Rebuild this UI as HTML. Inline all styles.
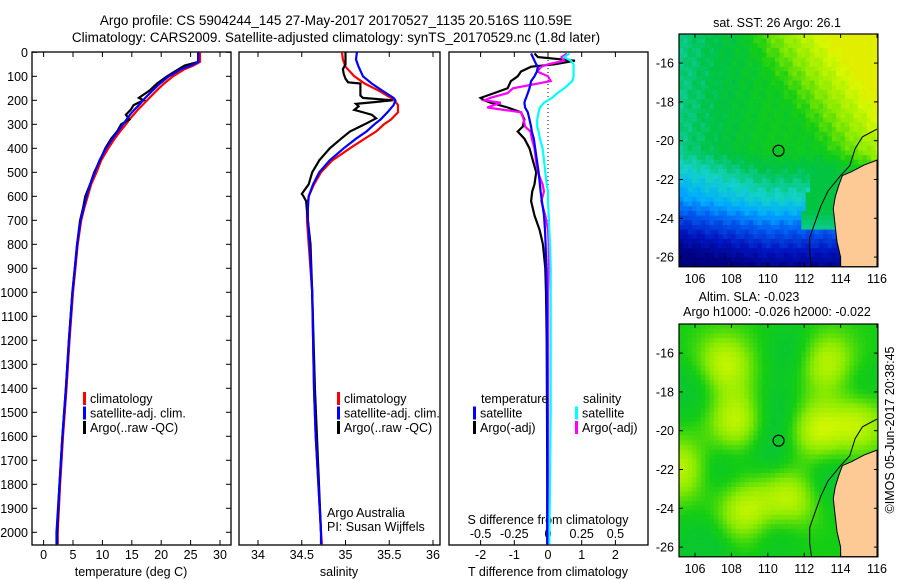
<!DOCTYPE html>
<html><head><meta charset="utf-8"><style>
html,body{margin:0;padding:0;background:#fff;}
svg{display:block;font-family:"Liberation Sans",sans-serif;}
text{font-size:12.5px;fill:#000;}
</style></head><body>
<svg id="s" width="900" height="580" viewBox="0 0 900 580">
<defs>
<clipPath id="clip1"><rect x="679" y="34" width="199" height="233"/></clipPath>
<clipPath id="clip2"><rect x="679" y="324" width="199" height="233"/></clipPath>
</defs>
<text x="336" y="25" text-anchor="middle" style="font-size:13.5px">Argo profile: CS 5904244_145 27-May-2017 20170527_1135 20.516S 110.59E</text>
<text x="336" y="42" text-anchor="middle" style="font-size:13.5px">Climatology: CARS2009. Satellite-adjusted climatology: synTS_20170529.nc (1.8d later)</text>
<g id="maps"></g>
<g id="plots"></g>
</svg>
<script>
// ---- profile data ----
const depthT=[0,40,55,70,100,130,160,190,200,220,240,260,280,300,330,360,400,450,500,550,600,650,700,800,900,1000,1200,1400,1600,1800,2000,2050];
const climT=[26.6,26.6,25.5,24,22,20.5,19.2,18,17.6,16.8,16,15.3,14.6,14,13,12.1,11,9.8,9,8.1,7.5,6.9,6.4,5.8,5.4,5.0,4.4,3.9,3.3,2.8,2.4,2.4];
const satT=[26.3,26.3,25.1,23.4,21.3,19.8,18.5,17.3,16.9,16.2,15.4,14.7,14.1,13.5,12.6,11.7,10.6,9.5,8.7,7.9,7.3,6.8,6.3,5.7,5.3,4.9,4.3,3.8,3.2,2.7,2.2,2.2];
const argoT=[26.3,26.3,24.0,23.0,21.0,19.3,18.0,16.2,17.0,15.3,14.8,14.0,14.6,13.2,12.5,11.5,10.5,9.6,8.6,7.9,7.1,6.7,6.2,5.7,5.3,4.9,4.3,3.8,3.2,2.7,2.3,2.3];
const depthS=[0,30,60,100,130,160,190,200,220,250,280,300,330,360,400,450,500,550,600,650,700,800,1000,1200,1400,1600,1800,2000,2050];
const climS=[34.96,34.97,35.0,35.1,35.22,35.38,35.52,35.56,35.6,35.6,35.52,35.44,35.35,35.22,35.05,34.85,34.72,34.64,34.58,34.56,34.56,34.58,34.62,34.63,34.64,34.66,34.69,34.72,34.73];
const satS=[35.13,35.12,35.15,35.2,35.3,35.42,35.55,35.57,35.55,35.48,35.4,35.33,35.24,35.12,34.98,34.82,34.7,34.63,34.58,34.57,34.57,34.59,34.62,34.63,34.64,34.66,34.69,34.72,34.72];
const depthSA=[0,50,70,90,110,125,130,180,190,200,215,225,240,260,275,300,330,360,400,450,500,550,590,600,620,700,800,1000,1400,2000];
const argoS=[35.0,35.0,34.97,34.98,35.0,35.03,35.17,35.17,35.2,35.54,35.12,35.15,35.1,35.3,35.35,35.22,35.05,34.95,34.82,34.7,34.62,34.58,34.5,34.52,34.55,34.57,34.6,34.62,34.65,34.72];
const depthD=[5,20,35,50,60,80,100,120,150,170,190,200,210,230,250,280,310,330,360,400,450,500,550,580,620,680,740,800,900,1000,1200,1500,1800,2050];
const tSatDiff=[-0.5,-0.45,-0.4,-0.35,-0.3,-0.33,-0.4,-0.5,-0.55,-0.6,-0.65,-0.68,-0.7,-0.68,-0.6,-0.55,-0.5,-0.48,-0.42,-0.38,-0.33,-0.28,-0.24,-0.22,-0.18,-0.12,-0.09,-0.07,-0.05,-0.04,-0.03,-0.02,-0.02,-0.02];
const tArgoDiff=[-0.4,-0.3,0.8,0.2,-0.5,-0.8,-0.9,-1.1,-1.2,-1.6,-2.0,-1.9,-1.7,-1.2,-0.8,-0.7,-0.75,-0.9,-0.7,-0.55,-0.45,-0.35,-0.4,-0.47,-0.5,-0.4,-0.25,-0.15,-0.08,-0.06,-0.04,-0.03,-0.02,-0.02];
const sSatDiff=[0.16,0.12,0.17,0.19,0.19,0.19,0.19,0.18,0.12,0.07,0.03,0.0,-0.03,-0.06,-0.07,-0.08,-0.08,-0.07,-0.06,-0.04,-0.03,-0.02,-0.01,0,0,0.005,0.01,0.015,0.02,0.02,0.02,0.02,0.015,0.01];
const sArgoDiff=[0.14,0.1,0.12,0.0,-0.05,-0.08,0.0,0.02,-0.26,-0.3,-0.43,-0.47,-0.35,-0.45,-0.2,-0.18,-0.17,-0.13,-0.12,-0.1,-0.09,-0.075,-0.04,-0.03,-0.05,-0.02,0,0.005,0.005,0,0,0,0,0];
const depthTicks=[0,100,200,300,400,500,600,700,800,900,1000,1100,1200,1300,1400,1500,1600,1700,1800,1900,2000];
const tempTicks=[0,5,10,15,20,25,30];
const salTicks=[34,34.5,35,35.5,36];
const tdTicks=[-2,-1,0,1,2];
const sdTicks=[-0.5,-0.25,0,0.25,0.5];
const lonTicks=[106,108,110,112,114,116];
const latTicks=[-16,-18,-20,-22,-24,-26];

const NS='http://www.w3.org/2000/svg';
function mk(tag,attrs,parent){const e=document.createElementNS(NS,tag);for(const k in attrs)e.setAttribute(k,attrs[k]);parent.appendChild(e);return e;}
const P=document.getElementById('plots');
const yD=d=>52.3+0.24*d;
const xT=t=>43.6+5.88*t;
const xS=s=>258+87.5*(s-34);
const xTD=v=>548+33.7*v;
const xSD=v=>548+134.8*v;
const TOP=52,BOT=545;

function frame(x0,x1,name){
  const r=mk('rect',{x:x0,y:TOP,width:x1-x0,height:BOT-TOP,fill:'none',stroke:'#000','stroke-width':1.3},P);
  
  
}
function line(xs,ys,xf,color,w,name){
  const pts=xs.map((v,i)=>xf(v).toFixed(1)+','+yD(ys[i]).toFixed(1)).join(' ');
  const pl=mk('polyline',{points:pts,fill:'none',stroke:color,'stroke-width':w,'stroke-linejoin':'miter'},P);
  
  
}
function txt(x,y,s,anchor,name,parent){
  const t=mk('text',{x:x,y:y,'text-anchor':anchor||'start'},parent||P);t.textContent=s;
  
  
  return t;
}
function xticks(vals,xf,labels,y){
  vals.forEach((v,i)=>{const x=xf(v);
    mk('line',{x1:x,y1:TOP,x2:x,y2:TOP+5,stroke:'#000'},P);
    mk('line',{x1:x,y1:BOT,x2:x,y2:BOT-5,stroke:'#000'},P);
    if(labels) txt(x,y,String(labels[i]),'middle','x-tick-label');
  });
}
frame(32,231,'temperature-panel');frame(239,440,'salinity-panel');frame(449,648,'difference-panel');
depthTicks.forEach(d=>{const y=yD(d);
  mk('line',{x1:32,y1:y,x2:37,y2:y,stroke:'#000'},P);
  mk('line',{x1:231,y1:y,x2:226,y2:y,stroke:'#000'},P);
  txt(28,y+4.5,String(d),'end','y-tick-label');
});
xticks(tempTicks,xT,tempTicks,559);
xticks(salTicks,xS,salTicks,559);
xticks(tdTicks,xTD,tdTicks,559);
sdTicks.forEach(v=>txt(xSD(v),538,String(v),'middle','s-diff-tick-label'));
txt(131,576,'temperature (deg C)','middle','x-axis-title-temperature');
txt(339,576,'salinity','middle','x-axis-title-salinity');
txt(548,576,'T difference from climatology','middle','x-axis-title-t-diff');
txt(548,524,'S difference from climatology','middle','x-axis-title-s-diff');
txt(327,517,'Argo Australia','start','credit-argo-australia');
txt(327,531,'PI: Susan Wijffels','start','credit-pi');
const z=mk('line',{x1:548,y1:TOP,x2:548,y2:BOT,stroke:'#000','stroke-dasharray':'1,3'},P);

line(climT,depthT,xT,'#f00',2.2,'temp-climatology');
line(argoT,depthT,xT,'#000',2.2,'temp-argo');
line(satT,depthT,xT,'#00f',2.2,'temp-satellite');
line(climS,depthS,xS,'#f00',2.2,'sal-climatology');
line(argoS,depthSA,xS,'#000',2.2,'sal-argo');
line(satS,depthS,xS,'#00f',2.2,'sal-satellite');
line(tArgoDiff,depthD,xTD,'#000',2.2,'tdiff-argo');
line(sArgoDiff,depthD,xSD,'#f0f',2.2,'sdiff-argo');
line(sSatDiff,depthD,xSD,'#0ff',2.2,'sdiff-satellite');
line(tSatDiff,depthD,xTD,'#00f',2.2,'tdiff-satellite');
function leg(x,y,color,label,name){
  const r=mk('rect',{x:x,y:y-11,width:3,height:13,fill:color},P);
  
  txt(x+7,y,label,'start',name);
}
[[ '#f00','climatology'],['#00f','satellite-adj. clim.'],['#000','Argo(..raw -QC)']].forEach((e,i)=>{
  leg(83,403+i*14.5,e[0],e[1],'legend-temp-'+i);
  leg(337,403+i*14.5,e[0],e[1],'legend-sal-'+i);
});
txt(481,403,'temperature','start','legend-header-temperature');
txt(583,403,'salinity','start','legend-header-salinity');
leg(473,417.5,'#00f','satellite','legend-t-satellite');
leg(473,432,'#000','Argo(-adj)','legend-t-argo');
leg(575,417.5,'#0ff','satellite','legend-s-satellite');
leg(575,432,'#f0f','Argo(-adj)','legend-s-argo');

// ---- maps ----
const M=document.getElementById('maps');
const stops=[[0,[0,0,128]],[0.12,[0,20,190]],[0.25,[0,90,240]],[0.35,[0,170,255]],[0.45,[20,210,200]],[0.55,[0,195,70]],[0.65,[20,205,20]],[0.75,[140,235,0]],[0.85,[215,248,0]],[0.95,[250,215,0]],[1,[255,190,0]]];
function cmap(v){v=Math.max(0,Math.min(1,v));for(let i=1;i<stops.length;i++){if(v<=stops[i][0]){const a=stops[i-1],b=stops[i],f=(v-a[0])/(b[0]-a[0]);const c=a[1].map((q,j)=>Math.round(q+(b[1][j]-q)*f));return 'rgb('+c.join(',')+')';}}return 'rgb(255,190,0)';}
const yellowBlobs=[[108.3,-19.5],[115,-19.5],[111.2,-23.5],[108.8,-24.2],[113.2,-16.5],[107.6,-16.6],[105.3,-22],[112.6,-20]];
const greenBlobs=[[110.3,-21],[107,-22],[106,-17.8],[111.5,-16],[110.3,-25],[115,-18],[106.5,-26],[113.3,-22.5],[110.5,-19]];
const LON0=105.12,LAT0=-14.5,SX=18.2,SY=19.4;
const coast=[[116,-21],[115.3,-21.25],[114.6,-21.6],[114.1,-21.8],[113.9,-22.3],[113.7,-22.9],[113.6,-23.5],[113.7,-24.4],[113.8,-25.2],[114.0,-26],[114.0,-26.5],[116,-26.5]];
const shelf=[[116,-19.4],[115.2,-19.8],[114.8,-20.4],[114.5,-21.3],[114.0,-21.8],[113.3,-22.6],[112.9,-23.4],[112.6,-24.2],[112.3,-25.0],[112.3,-25.8],[112.4,-26.5]];
function sstVal(lc,la){
  let v=0.62+0.025*Math.sin(lc*7.3+la*3.1)*Math.cos(la*5.7);
  const d=(lc-110)+0.75*(la+15);
  if(d>-1.5) v+=0.05*(d+1.5);
  v-=0.024*Math.max(0,110-lc);
  v-=0.07*Math.max(0,-20.5-la);
  v-=0.05*Math.max(0,-23-la);
  const near=lc-(112.6+0.25*(la+21));
  if(la<-20.5&&la>-24.5&&near>0) v=Math.max(v,0.56-0.06*Math.max(0,-23.5-la));
  return Math.min(v,0.88);
}
function drawMap(top,kind,name,clip){
  const g=mk('g',{},M);
  const X=l=>679+(l-LON0)*SX, Y=a=>top+(LAT0-a)*SY;
  const cells=mk('g',{'clip-path':'url(#'+clip+')'},g);
  const cs=0.24;
  for(let lon=LON0;lon<116.05;lon+=cs){for(let lat=LAT0;lat>-26.55;lat-=cs){
    const lc=lon+cs/2,la=lat-cs/2;let v;
    if(kind==='sst'){v=sstVal(lc,la);}
    else{
      v=0.65;yellowBlobs.forEach(b=>{v+=0.18*Math.exp(-((lc-b[0])**2+(la-b[1])**2)/2.5);});
      greenBlobs.forEach(b=>{v-=0.08*Math.exp(-((lc-b[0])**2+(la-b[1])**2)/2.5);});
      v=Math.max(0.6,Math.min(0.86,v));
    }
    mk('rect',{x:X(lon).toFixed(1),y:Y(lat).toFixed(1),width:(cs*SX+0.6).toFixed(1),height:(cs*SY+0.6).toFixed(1),fill:cmap(v)},cells);
  }}
  const land=mk('polygon',{points:coast.map(p=>X(p[0]).toFixed(1)+','+Y(p[1]).toFixed(1)).join(' '),fill:'#fdc995',stroke:'#000','stroke-width':1},g);
  
  const sh=mk('polyline',{points:shelf.map(p=>X(p[0]).toFixed(1)+','+Y(p[1]).toFixed(1)).join(' '),fill:'none',stroke:'#000','stroke-width':1},g);
  
  const c=mk('circle',{cx:X(110.59),cy:Y(-20.516),r:5.5,fill:'none',stroke:'#000','stroke-width':1.2},g);
  
  const x1=X(116.05),y1=Y(-26.5);
  const fr=mk('rect',{x:679,y:top,width:x1-679,height:y1-top,fill:'none',stroke:'#000','stroke-width':1.2},g);
  
  lonTicks.forEach(l=>{const x=X(l);mk('line',{x1:x,y1:top,x2:x,y2:top+4,stroke:'#000'},g);mk('line',{x1:x,y1:y1,x2:x,y2:y1-4,stroke:'#000'},g);txt(x,y1+16,String(l),'middle','map-lon-label',g);});
  latTicks.forEach(a=>{const y=Y(a);mk('line',{x1:679,y1:y,x2:683,y2:y,stroke:'#000'},g);mk('line',{x1:x1,y1:y,x2:x1-4,y2:y,stroke:'#000'},g);txt(674,y+4.5,String(a),'end','map-lat-label',g);});
}
drawMap(34,'sst','sst-map','clip1');
drawMap(324,'sla','sla-map','clip2');
txt(777,27,'sat. SST: 26 Argo: 26.1','middle','sst-map-title',M);
txt(749,301,'Altim. SLA: -0.023','middle','sla-map-title',M);
txt(777,316,'Argo h1000: -0.026 h2000: -0.022','middle','sla-map-subtitle',M);
const ts=txt(0,0,'©IMOS 05-Jun-2017 20:38:45','middle','timestamp',M);
ts.setAttribute('transform','translate(894,430) rotate(-90)');
</script>
</body></html>
